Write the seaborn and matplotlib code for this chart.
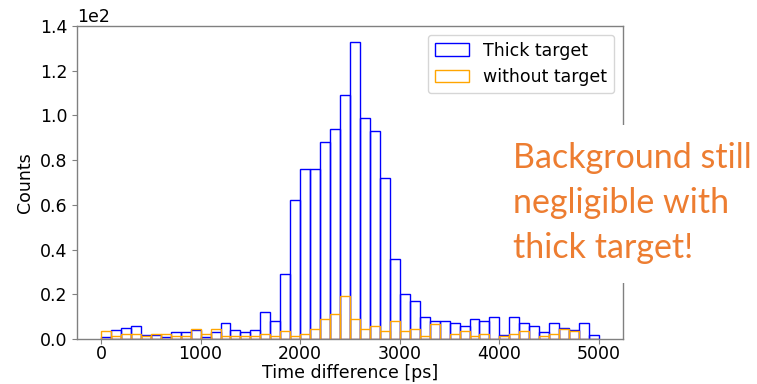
import matplotlib
matplotlib.use("Agg")
import matplotlib.pyplot as plt
from matplotlib.patches import Rectangle
import pandas as pd
import seaborn as sns

# Histogram bin edges in ps (100 ps bins from 0 to 5000 ps)
bin_edges = list(range(0, 5001, 100))
bin_centers = [e + 50 for e in bin_edges[:-1]]

# Counts per bin, thick target
thick_target = [
    1, 4, 5, 6, 2, 2, 1, 3, 3, 4,
    1, 3, 7, 4, 3, 4, 12, 8, 29, 62,
    76, 76, 88, 94, 109, 133, 99, 93, 72, 36,
    20, 17, 10, 8, 8, 7, 6, 9, 8, 10,
    2, 10, 7, 6, 3, 7, 5, 4, 7, 2,
]

# Counts per bin without target (normalised to the same live time)
without_target = [
    3.5, 1.3, 2.1, 2.1, 1.3, 2.1, 2.1, 1.5, 1.5, 4.3,
    2.1, 4.3, 1.3, 1.3, 1.3, 1.3, 2.1, 1.3, 3.5, 1.3,
    2.1, 4.3, 9.1, 11.2, 19.1, 9.1, 4.3, 5.7, 3.5, 7.9,
    3.5, 4.3, 1.3, 6.9, 0.0, 2.1, 3.5, 1.3, 2.1, 0.0,
    1.3, 2.1, 3.5, 0.0, 1.3, 2.1, 4.5, 3.5, 0.0, 0.0,
]

series_labels = ["Thick target", "without target"]
note_lines = ["Background still", "negligible with", "thick target!"]

df = pd.DataFrame({"t": bin_centers, "thick": thick_target,
                   "empty": without_target})

plt.rcParams["font.size"] = 12.5

fig = plt.figure(figsize=(7.57, 3.84), dpi=100)
ax = fig.add_axes([0.1017, 0.1172, 0.7213, 0.8151])

sns.histplot(data=df, x="t", weights="thick", bins=bin_edges,
             element="bars", fill=False, color="blue", linewidth=1.0,
             label=series_labels[0], ax=ax)
sns.histplot(data=df, x="t", weights="empty", bins=bin_edges,
             element="bars", fill=False, color="orange", linewidth=1.0,
             label=series_labels[1], ax=ax)

ax.set_xlim(-241, 5241)
ax.set_ylim(0, 140)
ax.ticklabel_format(axis="y", style="sci", scilimits=(2, 2))
ax.set_xlabel("Time difference [ps]", labelpad=0.5)
ax.set_ylabel("Counts")
ax.tick_params(labelsize=12.5, color="#808080")
ax.tick_params(axis="x", pad=1.0)
for sp in ax.spines.values():
    sp.set_color("#808080")
    sp.set_linewidth(1.0)
ax.yaxis.get_offset_text().set_fontsize(12.5)
ax.legend(loc="upper right", fontsize=12.5)

# Callout on a white panel at the right edge
fig.add_artist(Rectangle((505 / 757, 1 - 283 / 384), 252 / 757, 158 / 384,
                         transform=fig.transFigure, facecolor="white",
                         edgecolor="none", zorder=5))
for line, base in zip(note_lines, [168, 213, 258]):
    fig.text(513 / 757, 1 - base / 384, line, color="#ED7D31",
             fontsize=24.5, family="Lato", va="baseline", ha="left",
             zorder=6)

fig.savefig("out.png", dpi=100)
